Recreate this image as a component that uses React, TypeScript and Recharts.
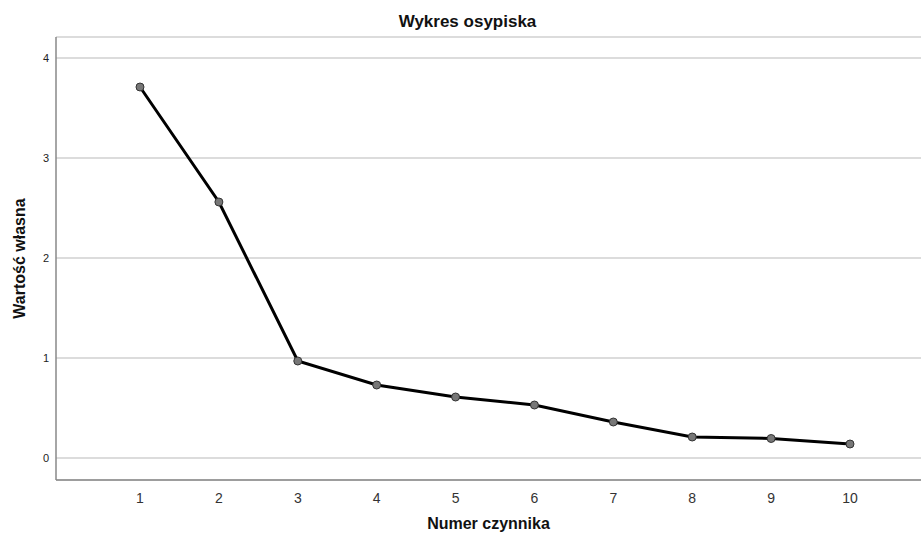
import React from 'react';
import { LineChart, Line, XAxis, YAxis, CartesianGrid, Label } from 'recharts';

// Factor numbers and eigenvalues
const factors = [1, 2, 3, 4, 5, 6, 7, 8, 9, 10];
const eigenvalues = [3.71, 2.56, 0.97, 0.73, 0.61, 0.53, 0.36, 0.21, 0.195, 0.14];
const yTicks = [0, 1, 2, 3, 4];

const data = factors.map((f, i) => ({ factor: f, value: eigenvalues[i] }));

const font = 'Arial, "Liberation Sans", sans-serif';

export default function App() {
  return (
    <div style={{ position: 'absolute', left: 0, top: 0, width: 921, height: 542, background: '#fff', fontFamily: font }}>
      <div style={{ position: 'absolute', left: 0, top: 12, width: 935, textAlign: 'center', fontSize: 17, fontWeight: 'bold', color: '#111' }}>
        Wykres osypiska
      </div>
      <LineChart width={921} height={542} data={data} margin={{ top: 37, right: 0, bottom: 0, left: 0 }}>
        <CartesianGrid horizontal vertical={false} stroke="#d0d0d0" strokeWidth={1.5} />
        <XAxis
          dataKey="factor"
          type="number"
          domain={[-0.065, 10.9]}
          ticks={factors}
          allowDataOverflow
          height={62}
          tickLine={false}
          tickSize={6}
          tickMargin={7}
          axisLine={{ stroke: '#888', strokeWidth: 1.5 }}
          tick={{ fill: '#333', fontSize: 14, fontFamily: font }}
        >
          <Label
            content={({ viewBox }: any) => (
              <text x={viewBox.x + viewBox.width / 2} y={viewBox.y + 49} textAnchor="middle"
                fontSize={16} fontWeight="bold" fill="#111" fontFamily={font}>
                Numer czynnika
              </text>
            )}
          />
        </XAxis>
        <YAxis
          type="number"
          domain={[-0.22, 4.21]}
          ticks={yTicks}
          allowDataOverflow
          width={56}
          tickLine={false}
          tickSize={6}
          tickMargin={1}
          axisLine={{ stroke: '#888', strokeWidth: 1.5 }}
          tick={{ fill: '#222', fontSize: 11, fontFamily: font }}
        >
          <Label
            content={({ viewBox }: any) => {
              const cx = 19;
              const cy = viewBox.y + viewBox.height / 2;
              return (
                <text x={cx} y={cy} textAnchor="middle" dominantBaseline="central"
                  transform={`rotate(-90 ${cx} ${cy})`}
                  fontSize={16} fontWeight="bold" fill="#111" fontFamily={font}>
                  Wartość własna
                </text>
              );
            }}
          />
        </YAxis>
        <Line
          type="linear"
          dataKey="value"
          stroke="#000"
          strokeWidth={3}
          dot={{ r: 4, fill: '#777', stroke: '#333', strokeWidth: 1 }}
          activeDot={false}
          isAnimationActive={false}
        />
      </LineChart>
    </div>
  );
}
